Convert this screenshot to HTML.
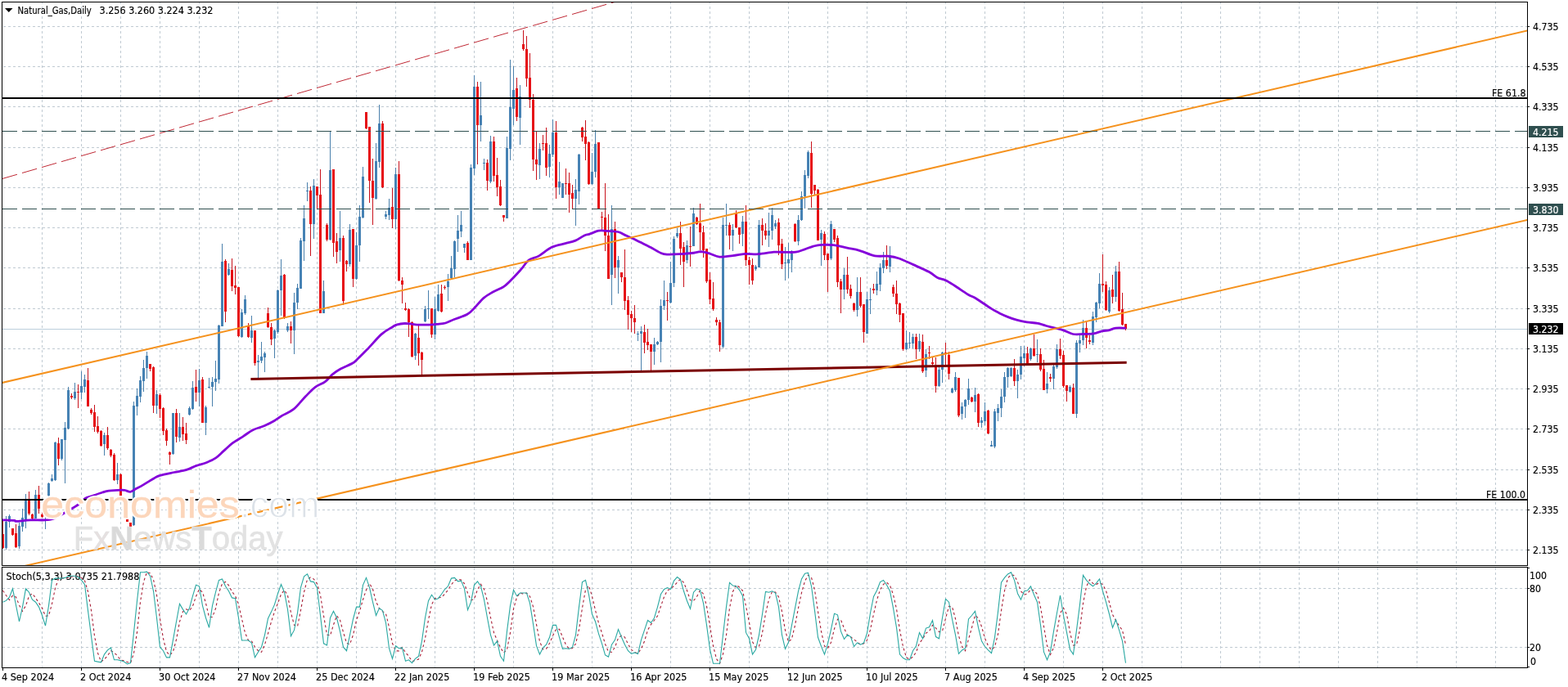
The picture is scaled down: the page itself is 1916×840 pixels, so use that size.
<!DOCTYPE html><html><head><meta charset="utf-8"><style>html,body{margin:0;padding:0;background:#fff;overflow:hidden}svg{display:block}text{font-family:'DejaVu Sans Condensed','DejaVu Sans','Liberation Sans',sans-serif;font-size:12px;fill:#000;stroke:#000;stroke-width:0.15px}</style></head><body>
<svg width="1916" height="840" viewBox="0 0 1916 840">
<rect width="1916" height="840" fill="#fff"/>
<path d="M4 32.5H1866 M4 81.5H1866 M4 130.5H1866 M4 180.5H1866 M4 229.5H1866 M4 278.5H1866 M4 327.5H1866 M4 377.5H1866 M4 426.5H1866 M4 475.5H1866 M4 524.5H1866 M4 574.5H1866 M4 623.5H1866 M4 672.5H1866" stroke="#c0cad2" stroke-width="1" stroke-dasharray="3 3" fill="none" shape-rendering="crispEdges"/>
<path d="M51.5 3V691 M99.5 3V691 M147.5 3V691 M195.5 3V691 M243.5 3V691 M291.5 3V691 M339.5 3V691 M387.5 3V691 M435.5 3V691 M483.5 3V691 M531.5 3V691 M579.5 3V691 M627.5 3V691 M675.5 3V691 M723.5 3V691 M771.5 3V691 M819.5 3V691 M867.5 3V691 M915.5 3V691 M963.5 3V691 M1011.5 3V691 M1059.5 3V691 M1107.5 3V691 M1155.5 3V691 M1203.5 3V691 M1251.5 3V691 M1299.5 3V691 M1347.5 3V691 M1395.5 3V691 M1443.5 3V691 M1491.5 3V691 M1539.5 3V691 M1587.5 3V691 M1635.5 3V691 M1683.5 3V691 M1731.5 3V691 M1779.5 3V691 M1827.5 3V691" stroke="#c0cad2" stroke-width="1" stroke-dasharray="3 3" stroke-dashoffset="1" fill="none" shape-rendering="crispEdges"/>
<path d="M3 719.5H1866 M3 791.5H1866 M51.5 694V816 M99.5 694V816 M147.5 694V816 M195.5 694V816 M243.5 694V816 M291.5 694V816 M339.5 694V816 M387.5 694V816 M435.5 694V816 M483.5 694V816 M531.5 694V816 M579.5 694V816 M627.5 694V816 M675.5 694V816 M723.5 694V816 M771.5 694V816 M819.5 694V816 M867.5 694V816 M915.5 694V816 M963.5 694V816 M1011.5 694V816 M1059.5 694V816 M1107.5 694V816 M1155.5 694V816 M1203.5 694V816 M1251.5 694V816 M1299.5 694V816 M1347.5 694V816 M1395.5 694V816 M1443.5 694V816 M1491.5 694V816 M1539.5 694V816 M1587.5 694V816 M1635.5 694V816 M1683.5 694V816 M1731.5 694V816 M1779.5 694V816 M1827.5 694V816" stroke="#c0cad2" stroke-width="1" stroke-dasharray="3 3" fill="none" shape-rendering="crispEdges"/>
<path d="M3 402.5H1866" stroke="#bccfdc" stroke-width="1" shape-rendering="crispEdges"/>
<path d="M7 631h1v7h-1zM7 670h1v2h-1zM11 629h1v2h-1zM11 638h1v7h-1zM23 639h1v4h-1zM23 668h1v3h-1zM27 622h1v11h-1zM27 644h1v6h-1zM31 604h1v7h-1zM31 635h1v11h-1zM43 599h1v6h-1zM55 609h1v3h-1zM55 630h1v17h-1zM59 590h1v1h-1zM59 606h1v1h-1zM63 580h1v5h-1zM63 588h1v1h-1zM67 540h1v1h-1zM67 587h1v1h-1zM75 561h1v2h-1zM79 516h1v7h-1zM79 538h1v53h-1zM83 473h1v4h-1zM83 524h1v1h-1zM91 468h1v11h-1zM91 487h1v2h-1zM99 454h1v18h-1zM99 480h1v8h-1zM103 458h1v6h-1zM103 473h1v7h-1zM127 529h1v3h-1zM127 543h1v14h-1zM143 566h1v14h-1zM143 587h1v5h-1zM163 491h1v5h-1zM163 642h1v1h-1zM167 475h1v9h-1zM167 497h1v11h-1zM171 460h1v5h-1zM171 485h1v7h-1zM175 440h1v10h-1zM175 466h1v13h-1zM179 430h1v5h-1zM179 450h1v13h-1zM191 477h1v5h-1zM191 496h1v10h-1zM211 555h1v1h-1zM219 505h1v17h-1zM219 535h1v5h-1zM231 497h1v2h-1zM231 507h1v1h-1zM235 466h1v8h-1zM235 500h1v1h-1zM243 451h1v14h-1zM243 480h1v17h-1zM251 496h1v2h-1zM251 517h1v15h-1zM255 462h1v11h-1zM255 474h1v1h-1zM259 461h1v6h-1zM259 473h1v24h-1zM263 441h1v22h-1zM263 467h1v11h-1zM267 397h1v1h-1zM267 464h1v5h-1zM271 298h1v22h-1zM279 322h1v7h-1zM279 336h1v1h-1zM295 378h1v4h-1zM295 412h1v1h-1zM299 361h1v5h-1zM299 383h1v2h-1zM307 386h1v18h-1zM307 413h1v6h-1zM315 434h1v7h-1zM315 443h1v19h-1zM319 418h1v18h-1zM319 441h1v3h-1zM323 430h1v2h-1zM323 437h1v18h-1zM335 403h1v1h-1zM335 414h1v24h-1zM339 354h1v1h-1zM339 406h1v2h-1zM343 317h1v20h-1zM343 355h1v31h-1zM351 395h1v4h-1zM351 404h1v2h-1zM359 358h1v12h-1zM359 404h1v29h-1zM363 347h1v5h-1zM363 370h1v8h-1zM367 291h1v3h-1zM371 251h1v16h-1zM371 295h1v24h-1zM375 223h1v10h-1zM375 234h1v12h-1zM383 219h1v8h-1zM383 274h1v18h-1zM395 343h1v13h-1zM403 160h1v48h-1zM403 293h1v1h-1zM415 258h1v33h-1zM415 306h1v14h-1zM427 274h1v7h-1zM427 323h1v3h-1zM435 284h1v16h-1zM435 341h1v1h-1zM439 251h1v14h-1zM439 300h1v20h-1zM443 204h1v12h-1zM443 266h1v1h-1zM459 175h1v22h-1zM459 243h1v1h-1zM463 128h1v23h-1zM463 198h1v7h-1zM471 258h1v4h-1zM471 265h1v3h-1zM475 243h1v11h-1zM475 263h1v6h-1zM483 205h1v8h-1zM483 268h1v12h-1zM507 407h1v1h-1zM507 435h1v5h-1zM519 374h1v4h-1zM519 393h1v1h-1zM523 355h1v22h-1zM523 378h1v12h-1zM531 363h1v15h-1zM531 409h1v6h-1zM535 348h1v12h-1zM535 380h1v1h-1zM547 335h1v9h-1zM547 351h1v17h-1zM551 313h1v15h-1zM551 340h1v2h-1zM555 294h1v1h-1zM555 329h1v10h-1zM559 263h1v19h-1zM559 292h1v16h-1zM563 258h1v17h-1zM563 283h1v7h-1zM567 303h1v6h-1zM575 201h1v4h-1zM579 92h1v14h-1zM579 206h1v8h-1zM587 100h1v41h-1zM587 153h1v20h-1zM591 194h1v5h-1zM591 200h1v8h-1zM599 166h1v7h-1zM599 222h1v2h-1zM619 167h1v14h-1zM623 73h1v58h-1zM623 182h1v14h-1zM627 81h1v29h-1zM627 133h1v20h-1zM635 104h1v14h-1zM635 144h1v33h-1zM659 175h1v7h-1zM659 202h1v17h-1zM671 177h1v11h-1zM671 204h1v13h-1zM675 146h1v16h-1zM675 189h1v3h-1zM683 198h1v24h-1zM683 229h1v9h-1zM703 219h1v13h-1zM703 243h1v33h-1zM707 188h1v1h-1zM707 234h1v16h-1zM723 187h1v23h-1zM723 225h1v1h-1zM727 159h1v17h-1zM727 210h1v7h-1zM747 251h1v29h-1zM747 336h1v37h-1zM755 313h1v5h-1zM755 327h1v32h-1zM779 405h1v3h-1zM779 409h1v8h-1zM783 399h1v6h-1zM783 408h1v45h-1zM799 413h1v8h-1zM799 430h1v16h-1zM803 417h1v1h-1zM803 421h1v1h-1zM807 366h1v8h-1zM807 418h1v25h-1zM811 343h1v24h-1zM811 374h1v5h-1zM819 320h1v26h-1zM819 370h1v1h-1zM823 289h1v3h-1zM823 346h1v5h-1zM827 279h1v6h-1zM827 289h1v2h-1zM839 294h1v6h-1zM839 318h1v4h-1zM847 254h1v7h-1zM883 266h1v9h-1zM883 424h1v2h-1zM887 249h1v26h-1zM887 276h1v12h-1zM895 274h1v7h-1zM895 288h1v19h-1zM907 264h1v7h-1zM907 286h1v15h-1zM923 324h1v2h-1zM923 329h1v2h-1zM927 269h1v6h-1zM939 260h1v22h-1zM939 288h1v14h-1zM943 254h1v9h-1zM943 282h1v11h-1zM947 269h1v4h-1zM947 277h1v3h-1zM959 302h1v19h-1zM959 322h1v21h-1zM963 297h1v20h-1zM963 322h1v18h-1zM967 306h1v4h-1zM967 318h1v15h-1zM975 263h1v6h-1zM975 295h1v5h-1zM979 234h1v6h-1zM979 269h1v1h-1zM983 208h1v6h-1zM983 240h1v15h-1zM987 184h1v2h-1zM987 215h1v3h-1zM1003 281h1v4h-1zM1003 293h1v32h-1zM1015 270h1v4h-1zM1015 316h1v2h-1zM1031 328h1v8h-1zM1031 354h1v12h-1zM1047 339h1v18h-1zM1047 379h1v8h-1zM1059 357h1v9h-1zM1063 352h1v14h-1zM1063 367h1v17h-1zM1071 332h1v15h-1zM1071 355h1v6h-1zM1075 322h1v5h-1zM1075 348h1v8h-1zM1079 308h1v10h-1zM1079 328h1v6h-1zM1087 301h1v11h-1zM1087 326h1v7h-1zM1107 404h1v15h-1zM1107 427h1v1h-1zM1111 406h1v13h-1zM1111 420h1v6h-1zM1115 408h1v4h-1zM1115 420h1v6h-1zM1123 408h1v9h-1zM1123 427h1v3h-1zM1131 427h1v6h-1zM1131 453h1v8h-1zM1147 449h1v3h-1zM1147 472h1v1h-1zM1151 430h1v1h-1zM1151 452h1v16h-1zM1163 474h1v1h-1zM1163 480h1v1h-1zM1167 455h1v6h-1zM1167 477h1v2h-1zM1175 492h1v5h-1zM1175 506h1v7h-1zM1179 488h1v1h-1zM1179 497h1v14h-1zM1183 463h1v12h-1zM1183 489h1v6h-1zM1191 474h1v9h-1zM1191 491h1v13h-1zM1199 510h1v4h-1zM1199 517h1v6h-1zM1203 492h1v11h-1zM1203 515h1v5h-1zM1211 539h1v5h-1zM1215 500h1v3h-1zM1215 546h1v2h-1zM1219 494h1v5h-1zM1219 505h1v10h-1zM1223 476h1v9h-1zM1223 499h1v11h-1zM1227 455h1v6h-1zM1227 485h1v7h-1zM1231 449h1v1h-1zM1231 461h1v13h-1zM1235 449h1v1h-1zM1235 460h1v1h-1zM1243 452h1v6h-1zM1243 466h1v21h-1zM1247 423h1v13h-1zM1247 458h1v6h-1zM1251 423h1v9h-1zM1251 438h1v10h-1zM1259 425h1v1h-1zM1259 439h1v2h-1zM1267 415h1v18h-1zM1267 434h1v9h-1zM1279 455h1v14h-1zM1279 476h1v5h-1zM1287 444h1v4h-1zM1287 463h1v13h-1zM1291 421h1v6h-1zM1291 449h1v2h-1zM1307 471h1v2h-1zM1307 479h1v1h-1zM1315 416h1v3h-1zM1315 506h1v5h-1zM1319 410h1v6h-1zM1319 420h1v11h-1zM1323 391h1v10h-1zM1323 416h1v6h-1zM1335 381h1v6h-1zM1335 419h1v3h-1zM1339 369h1v1h-1zM1339 388h1v6h-1zM1343 334h1v13h-1zM1343 371h1v6h-1zM1355 351h1v4h-1zM1355 381h1v2h-1zM1363 325h1v7h-1zM1363 363h1v6h-1z" fill="#4a80ac" shape-rendering="crispEdges"/>
<path d="M6 638h3v32h-3zM10 631h3v7h-3zM22 643h3v25h-3zM26 633h3v11h-3zM30 611h3v24h-3zM42 605h3v29h-3zM54 612h3v18h-3zM58 591h3v15h-3zM62 585h3v3h-3zM66 541h3v46h-3zM74 537h3v24h-3zM78 523h3v15h-3zM82 477h3v47h-3zM90 479h3v8h-3zM98 472h3v8h-3zM102 464h3v9h-3zM126 532h3v11h-3zM142 580h3v7h-3zM162 496h3v146h-3zM166 484h3v13h-3zM170 465h3v20h-3zM174 450h3v16h-3zM178 435h3v15h-3zM190 482h3v14h-3zM210 505h3v50h-3zM218 522h3v13h-3zM230 499h3v8h-3zM234 474h3v26h-3zM242 465h3v15h-3zM250 498h3v19h-3zM254 473h3v1h-3zM258 467h3v6h-3zM262 463h3v4h-3zM266 398h3v66h-3zM270 320h3v79h-3zM278 329h3v7h-3zM294 382h3v30h-3zM298 366h3v17h-3zM306 404h3v9h-3zM314 441h3v2h-3zM318 436h3v5h-3zM322 432h3v5h-3zM334 404h3v10h-3zM338 355h3v51h-3zM342 337h3v18h-3zM350 399h3v5h-3zM358 370h3v34h-3zM362 352h3v18h-3zM366 294h3v59h-3zM370 267h3v28h-3zM374 233h3v1h-3zM382 227h3v47h-3zM394 356h3v27h-3zM402 208h3v85h-3zM414 291h3v15h-3zM426 281h3v42h-3zM434 300h3v41h-3zM438 265h3v35h-3zM442 216h3v50h-3zM458 197h3v46h-3zM462 151h3v47h-3zM470 262h3v3h-3zM474 254h3v9h-3zM482 213h3v55h-3zM506 408h3v27h-3zM518 378h3v15h-3zM522 377h3v1h-3zM530 378h3v31h-3zM534 360h3v20h-3zM546 344h3v7h-3zM550 328h3v12h-3zM554 295h3v34h-3zM558 282h3v10h-3zM562 275h3v8h-3zM566 298h3v5h-3zM574 205h3v113h-3zM578 106h3v100h-3zM586 141h3v12h-3zM590 199h3v1h-3zM598 173h3v49h-3zM618 181h3v86h-3zM622 131h3v51h-3zM626 110h3v23h-3zM634 118h3v26h-3zM658 182h3v20h-3zM670 188h3v16h-3zM674 162h3v27h-3zM682 222h3v7h-3zM686 224h3v18h-3zM702 232h3v11h-3zM706 189h3v45h-3zM722 210h3v15h-3zM726 176h3v34h-3zM746 280h3v56h-3zM754 318h3v9h-3zM778 408h3v1h-3zM782 405h3v3h-3zM798 421h3v9h-3zM802 418h3v3h-3zM806 374h3v44h-3zM810 367h3v7h-3zM818 346h3v24h-3zM822 292h3v54h-3zM826 285h3v4h-3zM838 300h3v18h-3zM846 261h3v40h-3zM882 275h3v149h-3zM886 275h3v1h-3zM894 281h3v7h-3zM906 271h3v15h-3zM922 326h3v3h-3zM926 275h3v52h-3zM938 282h3v6h-3zM942 263h3v19h-3zM946 273h3v4h-3zM958 321h3v1h-3zM962 317h3v5h-3zM966 310h3v8h-3zM974 269h3v26h-3zM978 240h3v29h-3zM982 214h3v26h-3zM986 186h3v29h-3zM1002 285h3v8h-3zM1014 274h3v42h-3zM1030 336h3v18h-3zM1046 357h3v22h-3zM1058 366h3v42h-3zM1062 366h3v1h-3zM1070 347h3v8h-3zM1074 327h3v21h-3zM1078 318h3v10h-3zM1086 312h3v14h-3zM1106 419h3v8h-3zM1110 419h3v1h-3zM1114 412h3v8h-3zM1122 417h3v10h-3zM1130 433h3v20h-3zM1146 452h3v20h-3zM1150 431h3v21h-3zM1162 475h3v5h-3zM1166 461h3v16h-3zM1174 497h3v9h-3zM1178 489h3v8h-3zM1182 475h3v14h-3zM1190 483h3v8h-3zM1198 514h3v3h-3zM1202 503h3v12h-3zM1210 544h3v2h-3zM1214 503h3v43h-3zM1218 499h3v6h-3zM1222 485h3v14h-3zM1226 461h3v24h-3zM1230 450h3v11h-3zM1234 450h3v10h-3zM1242 458h3v8h-3zM1246 436h3v22h-3zM1250 432h3v6h-3zM1258 426h3v13h-3zM1266 433h3v1h-3zM1278 469h3v7h-3zM1286 448h3v15h-3zM1290 427h3v22h-3zM1306 473h3v6h-3zM1314 419h3v87h-3zM1318 416h3v4h-3zM1322 401h3v15h-3zM1334 387h3v32h-3zM1338 370h3v18h-3zM1342 347h3v24h-3zM1354 355h3v26h-3zM1362 332h3v31h-3z" fill="#4682b4" shape-rendering="crispEdges"/>
<path d="M3 637h1v16h-1zM3 670h1v1h-1zM15 654h1v1h-1zM19 641h1v11h-1zM19 669h1v1h-1zM35 601h1v10h-1zM35 628h1v2h-1zM39 628h1v1h-1zM39 634h1v1h-1zM47 594h1v11h-1zM47 622h1v6h-1zM51 620h1v9h-1zM51 632h1v1h-1zM71 535h1v7h-1zM71 561h1v8h-1zM87 481h1v3h-1zM87 486h1v2h-1zM95 470h1v9h-1zM95 480h1v19h-1zM107 450h1v15h-1zM111 499h1v2h-1zM111 505h1v2h-1zM115 495h1v9h-1zM115 522h1v6h-1zM119 509h1v12h-1zM119 528h1v2h-1zM123 526h1v1h-1zM123 545h1v1h-1zM131 522h1v10h-1zM131 548h1v2h-1zM135 549h1v1h-1zM135 557h1v2h-1zM139 554h1v2h-1zM139 587h1v1h-1zM147 579h1v1h-1zM151 608h1v4h-1zM183 451h1v3h-1zM187 448h1v1h-1zM187 496h1v9h-1zM195 481h1v2h-1zM195 500h1v11h-1zM199 498h1v1h-1zM199 527h1v5h-1zM203 524h1v2h-1zM203 539h1v6h-1zM207 552h1v1h-1zM207 556h1v12h-1zM215 500h1v5h-1zM215 534h1v7h-1zM223 510h1v12h-1zM223 531h1v8h-1zM227 517h1v13h-1zM227 538h1v5h-1zM239 452h1v21h-1zM239 480h1v11h-1zM247 461h1v3h-1zM275 317h1v2h-1zM275 381h1v13h-1zM283 316h1v14h-1zM283 350h1v6h-1zM287 325h1v24h-1zM287 352h1v8h-1zM291 411h1v1h-1zM303 395h1v3h-1zM303 412h1v1h-1zM311 444h1v3h-1zM327 376h1v7h-1zM327 400h1v1h-1zM331 395h1v5h-1zM331 415h1v7h-1zM347 335h1v1h-1zM347 388h1v2h-1zM355 393h1v6h-1zM355 404h1v16h-1zM379 228h1v5h-1zM379 274h1v39h-1zM387 239h1v16h-1zM391 207h1v31h-1zM399 273h1v2h-1zM399 293h1v2h-1zM407 297h1v17h-1zM411 285h1v10h-1zM411 308h1v14h-1zM419 288h1v3h-1zM419 368h1v5h-1zM423 318h1v1h-1zM423 323h1v9h-1zM431 341h1v10h-1zM447 157h1v1h-1zM451 221h1v27h-1zM455 194h1v27h-1zM455 242h1v33h-1zM467 148h1v3h-1zM467 229h1v1h-1zM479 230h1v23h-1zM479 268h1v11h-1zM487 197h1v16h-1zM487 343h1v1h-1zM491 339h1v4h-1zM491 348h1v23h-1zM495 370h1v7h-1zM495 379h1v1h-1zM499 377h1v1h-1zM499 394h1v18h-1zM503 393h1v1h-1zM503 436h1v1h-1zM511 398h1v15h-1zM511 432h1v15h-1zM515 430h1v1h-1zM515 440h1v18h-1zM527 409h1v4h-1zM539 348h1v11h-1zM539 381h1v1h-1zM543 349h1v2h-1zM543 352h1v2h-1zM571 295h1v2h-1zM583 100h1v6h-1zM583 153h1v48h-1zM595 195h1v4h-1zM595 221h1v12h-1zM603 167h1v6h-1zM603 215h1v7h-1zM607 193h1v21h-1zM607 229h1v11h-1zM611 220h1v8h-1zM611 251h1v1h-1zM615 266h1v5h-1zM631 95h1v13h-1zM631 143h1v5h-1zM639 37h1v17h-1zM639 60h1v2h-1zM643 44h1v16h-1zM643 96h1v10h-1zM647 65h1v30h-1zM647 122h1v10h-1zM651 115h1v7h-1zM651 195h1v14h-1zM655 160h1v35h-1zM655 201h1v19h-1zM663 165h1v10h-1zM663 176h1v8h-1zM667 156h1v19h-1zM667 205h1v10h-1zM679 148h1v14h-1zM679 229h1v14h-1zM691 206h1v18h-1zM691 225h1v13h-1zM695 211h1v13h-1zM695 238h1v22h-1zM699 226h1v10h-1zM699 243h1v12h-1zM711 155h1v1h-1zM711 168h1v5h-1zM715 147h1v20h-1zM715 176h1v20h-1zM719 173h1v1h-1zM719 225h1v1h-1zM735 259h1v6h-1zM735 266h1v16h-1zM739 224h1v42h-1zM739 288h1v19h-1zM743 262h1v26h-1zM751 271h1v9h-1zM751 327h1v13h-1zM759 339h1v6h-1zM763 305h1v34h-1zM763 368h1v11h-1zM767 362h1v5h-1zM767 385h1v18h-1zM771 380h1v4h-1zM771 389h1v17h-1zM775 373h1v16h-1zM775 394h1v14h-1zM787 397h1v9h-1zM787 419h1v13h-1zM791 402h1v16h-1zM791 422h1v6h-1zM795 430h1v24h-1zM815 357h1v10h-1zM815 368h1v24h-1zM831 271h1v14h-1zM831 304h1v20h-1zM835 296h1v6h-1zM835 320h1v31h-1zM843 277h1v24h-1zM843 302h1v24h-1zM851 265h1v1h-1zM851 274h1v1h-1zM855 249h1v24h-1zM855 284h1v22h-1zM859 276h1v8h-1zM859 306h1v9h-1zM863 344h1v2h-1zM867 333h1v9h-1zM867 366h1v6h-1zM871 345h1v20h-1zM871 378h1v2h-1zM875 388h1v3h-1zM875 394h1v4h-1zM879 391h1v3h-1zM879 422h1v8h-1zM891 272h1v3h-1zM891 288h1v17h-1zM899 257h1v4h-1zM899 278h1v1h-1zM903 287h1v11h-1zM911 251h1v20h-1zM911 318h1v7h-1zM915 314h1v4h-1zM915 324h1v24h-1zM919 316h1v8h-1zM919 343h1v5h-1zM931 267h1v8h-1zM931 282h1v18h-1zM935 273h1v9h-1zM935 288h1v5h-1zM951 267h1v5h-1zM951 300h1v12h-1zM955 292h1v6h-1zM955 323h1v6h-1zM971 273h1v1h-1zM971 295h1v1h-1zM991 173h1v14h-1zM991 237h1v17h-1zM995 233h1v5h-1zM999 231h1v1h-1zM1007 283h1v3h-1zM1007 312h1v6h-1zM1011 318h1v39h-1zM1019 293h1v3h-1zM1023 288h1v3h-1zM1023 345h1v6h-1zM1027 341h1v3h-1zM1027 354h1v29h-1zM1035 314h1v22h-1zM1035 354h1v5h-1zM1039 348h1v5h-1zM1039 362h1v3h-1zM1043 370h1v1h-1zM1043 379h1v2h-1zM1051 339h1v18h-1zM1051 374h1v2h-1zM1055 406h1v13h-1zM1067 347h1v6h-1zM1067 355h1v4h-1zM1083 300h1v18h-1zM1083 325h1v4h-1zM1091 348h1v3h-1zM1091 359h1v4h-1zM1095 343h1v16h-1zM1095 372h1v12h-1zM1099 370h1v1h-1zM1099 385h1v9h-1zM1103 427h1v2h-1zM1119 408h1v4h-1zM1119 427h1v12h-1zM1127 409h1v9h-1zM1127 454h1v2h-1zM1135 423h1v8h-1zM1135 432h1v7h-1zM1139 437h1v6h-1zM1139 445h1v3h-1zM1143 437h1v11h-1zM1143 472h1v8h-1zM1155 419h1v12h-1zM1155 433h1v14h-1zM1159 430h1v4h-1zM1159 457h1v7h-1zM1171 508h1v2h-1zM1187 485h1v1h-1zM1187 491h1v1h-1zM1195 481h1v1h-1zM1195 517h1v5h-1zM1207 501h1v1h-1zM1207 530h1v1h-1zM1239 439h1v11h-1zM1239 466h1v6h-1zM1255 424h1v8h-1zM1255 445h1v2h-1zM1263 409h1v17h-1zM1263 435h1v1h-1zM1271 426h1v7h-1zM1271 452h1v2h-1zM1275 440h1v11h-1zM1283 457h1v4h-1zM1283 463h1v4h-1zM1295 414h1v13h-1zM1295 435h1v4h-1zM1299 429h1v5h-1zM1299 472h1v2h-1zM1303 478h1v13h-1zM1311 469h1v5h-1zM1327 394h1v7h-1zM1327 413h1v13h-1zM1331 410h1v6h-1zM1331 418h1v3h-1zM1347 311h1v36h-1zM1347 349h1v8h-1zM1351 344h1v4h-1zM1351 379h1v1h-1zM1359 336h1v18h-1zM1359 363h1v8h-1zM1367 320h1v12h-1zM1367 380h1v1h-1zM1371 358h1v20h-1zM1371 397h1v1h-1zM1375 402h1v2h-1z" fill="#c8121c" shape-rendering="crispEdges"/>
<path d="M2 653h3v17h-3zM14 646h3v8h-3zM18 652h3v17h-3zM34 611h3v17h-3zM38 629h3v5h-3zM46 605h3v17h-3zM50 629h3v3h-3zM70 542h3v19h-3zM86 484h3v2h-3zM94 479h3v1h-3zM106 465h3v32h-3zM110 501h3v4h-3zM114 504h3v18h-3zM118 521h3v7h-3zM122 527h3v18h-3zM130 532h3v16h-3zM134 550h3v7h-3zM138 556h3v31h-3zM146 580h3v27h-3zM150 612h3v6h-3zM154 634h3v4h-3zM158 639h3v5h-3zM182 445h3v6h-3zM186 449h3v47h-3zM194 483h3v17h-3zM198 499h3v28h-3zM202 526h3v13h-3zM206 553h3v3h-3zM214 505h3v29h-3zM222 522h3v9h-3zM226 530h3v8h-3zM238 473h3v7h-3zM246 464h3v53h-3zM274 319h3v62h-3zM282 330h3v20h-3zM286 349h3v3h-3zM290 351h3v60h-3zM302 398h3v14h-3zM310 404h3v40h-3zM326 383h3v17h-3zM330 400h3v15h-3zM346 336h3v52h-3zM354 399h3v5h-3zM378 233h3v41h-3zM386 228h3v11h-3zM390 238h3v145h-3zM398 275h3v18h-3zM406 207h3v90h-3zM410 295h3v13h-3zM418 291h3v77h-3zM422 319h3v4h-3zM430 280h3v61h-3zM446 137h3v20h-3zM450 155h3v66h-3zM454 221h3v21h-3zM466 151h3v78h-3zM478 253h3v15h-3zM486 213h3v130h-3zM490 343h3v5h-3zM494 377h3v2h-3zM498 378h3v16h-3zM502 394h3v42h-3zM510 413h3v19h-3zM514 431h3v9h-3zM526 377h3v32h-3zM538 359h3v22h-3zM542 351h3v1h-3zM570 297h3v21h-3zM582 106h3v47h-3zM594 199h3v22h-3zM602 173h3v42h-3zM606 214h3v15h-3zM610 228h3v23h-3zM614 263h3v3h-3zM630 108h3v35h-3zM638 54h3v6h-3zM642 60h3v36h-3zM646 95h3v27h-3zM650 122h3v73h-3zM654 195h3v6h-3zM662 175h3v1h-3zM666 175h3v30h-3zM678 162h3v67h-3zM690 224h3v1h-3zM694 224h3v14h-3zM698 236h3v7h-3zM710 156h3v12h-3zM714 167h3v9h-3zM718 174h3v51h-3zM730 174h3v81h-3zM734 265h3v1h-3zM738 266h3v22h-3zM742 288h3v53h-3zM750 280h3v47h-3zM758 333h3v6h-3zM762 339h3v29h-3zM766 367h3v18h-3zM770 384h3v5h-3zM774 389h3v5h-3zM786 406h3v13h-3zM790 418h3v4h-3zM794 421h3v9h-3zM814 367h3v1h-3zM830 285h3v19h-3zM834 302h3v18h-3zM842 301h3v1h-3zM850 266h3v8h-3zM854 273h3v11h-3zM858 284h3v22h-3zM862 304h3v40h-3zM866 342h3v24h-3zM870 365h3v13h-3zM874 391h3v3h-3zM878 394h3v28h-3zM890 275h3v13h-3zM898 261h3v17h-3zM902 278h3v9h-3zM910 271h3v47h-3zM914 318h3v6h-3zM918 324h3v19h-3zM930 275h3v7h-3zM934 282h3v6h-3zM950 272h3v28h-3zM954 298h3v25h-3zM970 274h3v21h-3zM990 187h3v50h-3zM994 226h3v7h-3zM998 232h3v62h-3zM1006 286h3v26h-3zM1010 310h3v8h-3zM1018 280h3v13h-3zM1022 291h3v54h-3zM1026 344h3v10h-3zM1034 336h3v18h-3zM1038 353h3v9h-3zM1042 371h3v8h-3zM1050 357h3v17h-3zM1054 372h3v34h-3zM1066 353h3v2h-3zM1082 318h3v7h-3zM1090 351h3v8h-3zM1094 359h3v13h-3zM1098 371h3v14h-3zM1102 383h3v44h-3zM1118 412h3v15h-3zM1126 418h3v36h-3zM1134 431h3v1h-3zM1138 443h3v2h-3zM1142 448h3v24h-3zM1154 431h3v2h-3zM1158 434h3v23h-3zM1170 462h3v46h-3zM1186 486h3v5h-3zM1194 482h3v35h-3zM1206 502h3v28h-3zM1238 450h3v16h-3zM1254 432h3v13h-3zM1262 426h3v9h-3zM1270 433h3v19h-3zM1274 451h3v26h-3zM1282 461h3v2h-3zM1294 427h3v8h-3zM1298 434h3v38h-3zM1302 471h3v7h-3zM1310 474h3v32h-3zM1326 401h3v12h-3zM1330 416h3v2h-3zM1346 347h3v2h-3zM1350 348h3v31h-3zM1358 354h3v9h-3zM1366 332h3v48h-3zM1370 378h3v19h-3zM1374 396h3v6h-3z" fill="#e60d14" shape-rendering="crispEdges"/>


<defs><clipPath id="cm"><rect x="3" y="3" width="1863" height="688"/></clipPath><clipPath id="cs"><rect x="3" y="694" width="1863" height="122"/></clipPath></defs>
<g clip-path="url(#cm)">
<path d="M2.5 635.8C5.0 635.9 14.6 636.1 17.5 636.4C20.4 636.7 16.6 637.5 20.0 637.4C23.4 637.3 30.5 636.2 37.6 635.8C44.7 635.4 54.8 637.1 62.7 635.0C70.6 632.9 79.6 626.4 85.2 623.3C90.8 620.2 93.4 618.7 96.5 616.4C99.6 614.1 101.3 611.2 104.0 609.5C106.7 607.8 109.2 607.6 112.8 606.4C116.3 605.1 122.0 603.0 125.3 602.0C128.6 601.0 129.0 600.6 132.8 600.1C136.6 599.6 144.6 599.2 147.9 599.1C151.2 599.0 151.0 599.1 152.9 599.5C154.8 599.9 157.2 601.5 159.1 601.4C161.0 601.3 161.5 600.3 164.2 598.8C166.9 597.3 171.4 594.9 175.4 592.6C179.4 590.3 184.7 586.9 188.0 585.0C191.3 583.1 191.3 582.5 195.5 581.3C199.7 580.0 207.6 578.6 213.0 577.5C218.4 576.4 223.5 575.8 228.0 574.4C232.5 573.0 236.0 570.8 240.0 569.4C244.0 568.0 247.9 567.3 251.9 565.7C255.9 564.1 260.2 562.2 263.8 559.8C267.4 557.4 269.9 554.4 273.3 551.4C276.7 548.4 280.0 544.9 284.0 541.9C288.0 538.9 292.9 536.3 297.1 533.6C301.3 530.9 304.6 527.9 309.0 525.7C313.4 523.5 318.9 522.4 323.3 520.5C327.7 518.6 331.6 516.6 335.2 514.5C338.8 512.4 340.8 510.5 344.8 508.1C348.8 505.7 354.2 504.1 359.0 500.2C363.8 496.3 368.9 489.3 373.3 484.8C377.7 480.3 381.2 476.3 385.2 473.3C389.2 470.3 393.5 469.5 397.1 466.9C400.7 464.2 403.5 460.0 406.7 457.4C409.9 454.8 412.2 453.2 416.2 451.0C420.2 448.8 426.9 446.4 430.5 444.3C434.1 442.2 434.4 441.3 437.6 438.3C440.8 435.3 444.7 431.3 449.5 426.4C454.3 421.4 461.1 413.1 466.2 408.6C471.3 404.1 476.8 401.5 480.0 399.5C483.2 397.5 483.0 397.5 485.4 396.8C487.8 396.1 491.6 395.6 494.3 395.5C497.0 395.4 498.7 395.6 501.4 395.9C504.1 396.2 506.5 396.9 510.4 397.1C514.3 397.3 520.7 397.2 524.6 397.1C528.5 397.0 530.3 396.8 533.6 396.4C536.9 396.0 540.7 396.0 544.3 395.0C547.9 394.0 550.5 392.3 555.0 390.5C559.5 388.7 566.8 386.7 571.0 384.3C575.2 381.9 576.7 379.6 580.0 376.3C583.3 373.0 587.1 367.7 590.7 364.6C594.3 361.5 597.2 359.9 601.4 357.5C605.6 355.1 611.5 353.2 615.7 350.4C619.9 347.6 622.8 344.1 626.4 340.5C630.0 336.9 633.8 332.6 637.1 328.9C640.4 325.2 642.4 320.9 646.0 318.2C649.6 315.5 653.8 315.6 658.6 312.9C663.4 310.2 669.2 304.6 674.6 302.1C680.0 299.6 685.9 299.0 690.7 297.7C695.5 296.4 699.3 295.7 703.2 294.1C707.1 292.5 711.2 289.2 714.0 287.9C716.8 286.6 717.1 287.2 720.0 286.3C722.9 285.4 728.2 282.9 731.3 282.2C734.4 281.5 734.8 282.0 738.8 282.2C742.8 282.4 751.1 282.7 755.1 283.5C759.1 284.3 759.7 285.6 762.6 286.9C765.5 288.2 769.2 289.7 772.6 291.3C776.0 292.9 778.9 294.4 782.7 296.3C786.5 298.2 791.0 300.4 795.2 302.6C799.4 304.8 804.4 308.1 807.7 309.5C811.0 310.9 811.4 310.9 815.2 311.1C819.0 311.3 825.3 311.0 830.3 310.7C835.3 310.4 840.9 310.0 845.3 309.5C849.7 309.0 853.0 307.6 856.6 307.6C860.2 307.7 862.9 308.7 866.6 309.8C870.4 310.9 874.3 313.6 879.1 314.1C883.9 314.6 890.2 313.2 895.4 312.6C900.6 312.0 905.3 310.7 910.5 310.4C915.7 310.1 920.9 311.1 926.8 310.7C932.6 310.3 940.1 308.6 945.6 308.2C951.1 307.8 955.5 308.4 960.0 308.4C964.5 308.4 968.7 308.8 972.5 308.2C976.3 307.6 979.1 306.3 982.6 305.1C986.1 303.9 990.2 302.1 993.8 301.1C997.3 300.2 999.5 299.6 1003.9 299.4C1008.3 299.2 1015.0 299.2 1020.2 299.8C1025.4 300.4 1030.2 302.1 1035.2 303.2C1040.2 304.3 1044.6 304.7 1050.2 306.3C1055.8 307.9 1063.2 311.7 1069.0 312.8C1074.8 313.9 1080.5 312.7 1085.3 313.2C1090.1 313.7 1092.6 313.9 1097.8 315.7C1103.0 317.5 1110.3 321.1 1116.6 323.9C1122.9 326.7 1130.6 330.0 1135.4 332.6C1140.2 335.2 1142.2 337.8 1145.5 339.5C1148.8 341.2 1152.0 341.0 1155.5 342.7C1159.0 344.4 1162.2 346.6 1166.8 349.5C1171.4 352.4 1178.7 357.6 1183.1 360.2C1187.5 362.8 1188.5 362.4 1193.1 365.2C1197.7 368.0 1206.2 374.2 1210.9 377.1C1215.6 380.1 1217.8 381.1 1221.3 382.9C1224.8 384.6 1228.3 386.2 1231.8 387.6C1235.3 389.0 1238.4 390.2 1242.2 391.2C1246.0 392.2 1250.4 393.1 1254.7 393.8C1259.0 394.5 1264.3 394.6 1268.3 395.4C1272.3 396.2 1275.2 397.6 1278.7 398.5C1282.2 399.4 1285.7 400.2 1289.2 401.1C1292.7 402.0 1295.9 402.6 1299.6 403.8C1303.2 405.0 1307.1 407.7 1311.1 408.5C1315.1 409.3 1319.4 408.6 1323.6 408.5C1327.8 408.4 1332.3 408.5 1336.1 407.9C1339.9 407.3 1343.5 405.5 1346.6 404.8C1349.7 404.1 1352.1 404.4 1354.9 403.8C1357.7 403.2 1359.8 401.6 1363.3 401.1C1366.8 400.7 1373.7 401.1 1375.8 401.1" stroke="#8400da" stroke-width="2.8" fill="none" stroke-linejoin="round"/>
<path d="M306.4 463.4L1376.7 443.3" stroke="#7a0000" stroke-width="3" fill="none"/>
<path d="M0 468.59L1870 36.58M0 698.93L1870 267.98" stroke="#f5921e" stroke-width="2" fill="none"/>
<path d="M3 218.46L760 -0.09" stroke="#c02a36" stroke-width="1" stroke-dasharray="18.735 6.245" fill="none"/>
</g>
<path d="M3 160.5H1866M3 255.5H1866" stroke="#2f4f4f" stroke-width="1" stroke-dasharray="18 6" shape-rendering="crispEdges"/>
<path d="M3 120H1866M3 611H1866" stroke="#000" stroke-width="2" shape-rendering="crispEdges"/>
<text x="50.3" y="632.6" textLength="242.5" lengthAdjust="spacingAndGlyphs" style="font-family:'Liberation Sans',Arial,sans-serif;font-size:47px;fill:#fff;stroke:#fff;stroke-width:4;stroke-linejoin:round">economies</text>
<text x="50.3" y="632.6" textLength="242.5" lengthAdjust="spacingAndGlyphs" style="font-family:'Liberation Sans',Arial,sans-serif;font-size:47px;fill:#fcd6bb;stroke:#fcd6bb;stroke-width:0.3">economies</text>
<text x="293" y="632.6" textLength="97.6" lengthAdjust="spacingAndGlyphs" style="font-family:'Liberation Sans',Arial,sans-serif;font-size:47px;fill:#fff;stroke:#fff;stroke-width:3;stroke-linejoin:round">.com</text>
<text x="293" y="632.6" textLength="97.6" lengthAdjust="spacingAndGlyphs" style="font-family:'Liberation Sans',Arial,sans-serif;font-size:47px;fill:#dce2e8;stroke:#fff;stroke-width:1.3">.com</text>
<text x="89.8" y="672" textLength="255.7" lengthAdjust="spacingAndGlyphs" style="font-family:'Liberation Sans',Arial,sans-serif;font-size:40.5px;fill:#e2e2e2;stroke:#e2e2e2;stroke-width:0.6"><tspan style="fill:#e2e2e2">F</tspan><tspan style="fill:#e6e0e0">x</tspan><tspan style="font-weight:bold;fill:#d9d9d9">N</tspan>ews<tspan style="font-weight:bold;fill:#dadada">T</tspan>oday</text>
<text x="7.5" y="708.7" textLength="163" lengthAdjust="spacingAndGlyphs">Stoch(5,3,3) 3.0735 21.7988</text>
<g clip-path="url(#cs)">
<path d="M3.5 722.0 L7.5 728.0 L11.5 733.6 L15.5 728.1 L19.5 730.0 L23.5 739.9 L27.5 747.3 L31.5 740.6 L35.5 728.7 L39.5 725.7 L43.5 731.2 L47.5 737.1 L51.5 743.6 L55.5 753.3 L59.5 752.8 L63.5 738.4 L67.5 719.0 L71.5 707.9 L75.5 707.1 L79.5 706.9 L83.5 706.1 L87.5 705.2 L91.5 704.4 L95.5 704.7 L99.5 706.4 L103.5 709.9 L107.5 723.5 L111.5 746.3 L115.5 777.6 L119.5 798.4 L123.5 809.1 L127.5 806.3 L131.5 801.6 L135.5 795.7 L139.5 797.9 L143.5 801.9 L147.5 807.1 L151.5 807.8 L155.5 809.6 L159.5 810.6 L163.5 798.7 L167.5 772.9 L171.5 735.9 L175.5 711.4 L179.5 699.5 L183.5 701.0 L187.5 708.7 L191.5 727.5 L195.5 756.5 L199.5 780.8 L203.5 796.9 L207.5 801.1 L211.5 796.7 L215.5 782.0 L219.5 760.2 L223.5 747.8 L227.5 744.8 L231.5 746.6 L235.5 741.1 L239.5 729.2 L243.5 720.3 L247.5 724.2 L251.5 737.6 L255.5 754.5 L259.5 754.5 L263.5 744.1 L267.5 724.7 L271.5 713.8 L275.5 711.4 L279.5 715.8 L283.5 723.5 L287.5 728.5 L291.5 739.4 L295.5 756.7 L299.5 773.9 L303.5 783.0 L307.5 784.0 L311.5 791.0 L315.5 795.7 L319.5 797.4 L323.5 788.2 L327.5 774.6 L331.5 760.2 L335.5 747.8 L339.5 737.6 L343.5 726.5 L347.5 721.5 L351.5 728.0 L355.5 749.1 L359.5 764.4 L363.5 765.9 L367.5 746.1 L371.5 724.2 L375.5 708.4 L379.5 705.9 L383.5 708.1 L387.5 713.8 L391.5 727.7 L395.5 752.8 L399.5 776.1 L403.5 777.1 L407.5 763.9 L411.5 752.8 L415.5 758.2 L419.5 772.9 L423.5 786.3 L427.5 787.7 L431.5 776.3 L435.5 758.5 L439.5 747.1 L443.5 733.2 L447.5 721.3 L451.5 713.3 L455.5 720.3 L459.5 735.7 L463.5 744.1 L467.5 747.6 L471.5 750.5 L475.5 766.9 L479.5 786.5 L483.5 795.9 L487.5 795.9 L491.5 791.5 L495.5 797.7 L499.5 802.4 L503.5 808.6 L507.5 807.6 L511.5 806.1 L515.5 797.2 L519.5 780.5 L523.5 758.0 L527.5 739.1 L531.5 731.7 L535.5 730.7 L539.5 730.5 L543.5 726.2 L547.5 721.3 L551.5 714.8 L555.5 710.1 L559.5 708.1 L563.5 709.1 L567.5 713.6 L571.5 725.2 L575.5 733.9 L579.5 732.4 L583.5 720.8 L587.5 714.3 L591.5 720.3 L595.5 735.2 L599.5 755.0 L603.5 773.6 L607.5 783.0 L611.5 791.7 L615.5 798.2 L619.5 794.2 L623.5 773.6 L627.5 744.6 L631.5 730.2 L635.5 725.0 L639.5 726.2 L643.5 725.0 L647.5 729.2 L651.5 741.9 L655.5 763.4 L659.5 784.3 L663.5 793.9 L667.5 793.4 L671.5 786.5 L675.5 777.3 L679.5 769.4 L683.5 769.4 L687.5 779.1 L691.5 788.5 L695.5 793.2 L699.5 792.5 L703.5 787.0 L707.5 769.9 L711.5 743.3 L715.5 721.0 L719.5 716.1 L723.5 729.2 L727.5 746.1 L731.5 761.9 L735.5 773.9 L739.5 787.5 L743.5 796.9 L747.5 797.4 L751.5 791.2 L755.5 780.1 L759.5 777.1 L763.5 779.1 L767.5 787.7 L771.5 794.4 L775.5 797.7 L779.5 798.9 L783.5 793.2 L787.5 784.0 L791.5 770.4 L795.5 763.4 L799.5 758.5 L803.5 753.0 L807.5 741.4 L811.5 729.7 L815.5 721.9 L819.5 719.9 L823.5 716.4 L827.5 712.1 L831.5 708.1 L835.5 712.3 L839.5 722.0 L843.5 733.9 L847.5 734.4 L851.5 729.5 L855.5 721.8 L859.5 726.2 L863.5 741.1 L867.5 765.4 L871.5 790.0 L875.5 805.6 L879.5 811.3 L883.5 799.6 L887.5 776.6 L891.5 743.6 L895.5 723.5 L899.5 715.1 L903.5 718.0 L907.5 722.3 L911.5 741.1 L915.5 761.0 L919.5 784.8 L923.5 791.7 L927.5 790.2 L931.5 773.9 L935.5 750.3 L939.5 732.9 L943.5 723.5 L947.5 724.0 L951.5 730.0 L955.5 747.8 L959.5 770.6 L963.5 785.0 L967.5 781.0 L971.5 764.4 L975.5 743.6 L979.5 724.7 L983.5 710.6 L987.5 703.2 L991.5 706.1 L995.5 721.3 L999.5 747.6 L1003.5 772.0 L1007.5 789.9 L1011.5 792.4 L1015.5 785.5 L1019.5 768.9 L1023.5 757.2 L1027.5 758.0 L1031.5 768.4 L1035.5 776.6 L1039.5 778.8 L1043.5 781.8 L1047.5 785.0 L1051.5 788.2 L1055.5 786.8 L1059.5 782.8 L1063.5 769.9 L1067.5 751.0 L1071.5 733.7 L1075.5 721.0 L1079.5 714.3 L1083.5 712.1 L1087.5 715.8 L1091.5 727.2 L1095.5 744.6 L1099.5 770.4 L1103.5 790.7 L1107.5 803.9 L1111.5 806.1 L1115.5 803.1 L1119.5 797.4 L1123.5 786.3 L1127.5 781.3 L1131.5 774.1 L1135.5 771.9 L1139.5 764.4 L1143.5 767.9 L1147.5 772.6 L1151.5 771.6 L1155.5 756.2 L1159.5 741.4 L1163.5 741.9 L1167.5 756.5 L1171.5 777.6 L1175.5 790.2 L1179.5 795.7 L1183.5 781.5 L1187.5 767.4 L1191.5 752.3 L1195.5 755.7 L1199.5 766.2 L1203.5 780.5 L1207.5 789.7 L1211.5 794.7 L1215.5 791.0 L1219.5 775.3 L1223.5 746.6 L1227.5 722.3 L1231.5 706.9 L1235.5 702.7 L1239.5 703.7 L1243.5 711.6 L1247.5 722.8 L1251.5 727.2 L1255.5 726.0 L1259.5 720.5 L1263.5 722.0 L1267.5 726.7 L1271.5 742.6 L1275.5 765.9 L1279.5 789.5 L1283.5 800.4 L1287.5 792.0 L1291.5 772.9 L1295.5 749.8 L1299.5 743.3 L1303.5 751.3 L1307.5 773.4 L1311.5 789.2 L1315.5 788.2 L1319.5 769.9 L1323.5 737.6 L1327.5 717.3 L1331.5 708.9 L1335.5 713.3 L1339.5 714.6 L1343.5 712.6 L1347.5 714.6 L1351.5 722.3 L1355.5 736.7 L1359.5 751.5 L1363.5 758.7 L1367.5 765.2 L1371.5 770.6 L1375.5 788.2" stroke="#a81e36" stroke-width="1.1" stroke-dasharray="3 3" fill="none"/>
<path d="M3.5 736.2 L7.5 734.4 L11.5 730.2 L15.5 719.8 L19.5 739.9 L23.5 760.0 L27.5 742.1 L31.5 719.8 L35.5 724.2 L39.5 733.2 L43.5 736.2 L47.5 742.1 L51.5 752.5 L55.5 765.2 L59.5 740.6 L63.5 709.4 L67.5 707.1 L71.5 707.1 L75.5 707.1 L79.5 706.4 L83.5 704.9 L87.5 704.2 L91.5 704.2 L95.5 705.6 L99.5 709.4 L103.5 714.6 L107.5 746.6 L111.5 777.8 L115.5 808.3 L119.5 809.1 L123.5 809.8 L127.5 800.1 L131.5 794.9 L135.5 792.0 L139.5 806.8 L143.5 806.8 L147.5 807.6 L151.5 809.1 L155.5 812.0 L159.5 810.6 L163.5 773.4 L167.5 734.7 L171.5 699.7 L175.5 699.7 L179.5 699.2 L183.5 704.2 L187.5 722.8 L191.5 755.5 L195.5 791.2 L199.5 795.7 L203.5 803.9 L207.5 803.9 L211.5 782.3 L215.5 760.0 L219.5 738.4 L223.5 745.1 L227.5 751.0 L231.5 743.6 L235.5 728.7 L239.5 715.3 L243.5 716.8 L247.5 740.6 L251.5 755.5 L255.5 767.4 L259.5 740.6 L263.5 724.2 L267.5 709.4 L271.5 707.9 L275.5 716.8 L279.5 722.8 L283.5 730.9 L287.5 731.7 L291.5 755.5 L295.5 783.0 L299.5 783.0 L303.5 783.0 L307.5 786.0 L311.5 803.9 L315.5 797.2 L319.5 791.2 L323.5 776.3 L327.5 756.2 L331.5 748.1 L335.5 739.1 L339.5 725.7 L343.5 714.6 L347.5 724.2 L351.5 745.1 L355.5 777.8 L359.5 770.4 L363.5 749.5 L367.5 718.3 L371.5 704.9 L375.5 701.9 L379.5 710.9 L383.5 711.6 L387.5 719.0 L391.5 752.5 L395.5 786.8 L399.5 789.0 L403.5 755.5 L407.5 747.3 L411.5 755.5 L415.5 771.9 L419.5 791.2 L423.5 795.7 L427.5 776.3 L431.5 757.0 L435.5 742.1 L439.5 742.1 L443.5 715.3 L447.5 706.4 L451.5 718.3 L455.5 736.2 L459.5 752.5 L463.5 743.6 L467.5 746.6 L471.5 761.5 L475.5 792.7 L479.5 805.4 L483.5 789.7 L487.5 792.7 L491.5 792.0 L495.5 808.3 L499.5 806.8 L503.5 810.6 L507.5 805.4 L511.5 802.4 L515.5 783.8 L519.5 755.5 L523.5 734.7 L527.5 727.2 L531.5 733.2 L535.5 731.7 L539.5 726.5 L543.5 720.5 L547.5 716.8 L551.5 707.1 L555.5 706.4 L559.5 710.9 L563.5 710.1 L567.5 719.8 L571.5 745.8 L575.5 736.2 L579.5 715.3 L583.5 710.9 L587.5 716.8 L591.5 733.2 L595.5 755.5 L599.5 776.3 L603.5 789.0 L607.5 783.8 L611.5 802.4 L615.5 808.3 L619.5 771.9 L623.5 740.6 L627.5 721.3 L631.5 728.7 L635.5 725.0 L639.5 725.0 L643.5 725.0 L647.5 737.6 L651.5 762.9 L655.5 789.7 L659.5 800.1 L663.5 792.0 L667.5 788.2 L671.5 779.3 L675.5 764.4 L679.5 764.4 L683.5 779.3 L687.5 793.4 L691.5 792.7 L695.5 793.4 L699.5 791.2 L703.5 776.3 L707.5 742.1 L711.5 711.6 L715.5 709.4 L719.5 727.2 L723.5 751.0 L727.5 760.0 L731.5 774.8 L735.5 786.8 L739.5 800.9 L743.5 803.1 L747.5 788.2 L751.5 782.3 L755.5 769.6 L759.5 779.3 L763.5 788.2 L767.5 795.7 L771.5 799.4 L775.5 797.9 L779.5 799.4 L783.5 782.3 L787.5 770.4 L791.5 758.5 L795.5 761.5 L799.5 755.5 L803.5 742.1 L807.5 726.5 L811.5 720.5 L815.5 718.6 L819.5 720.5 L823.5 710.1 L827.5 705.6 L831.5 708.6 L835.5 722.8 L839.5 734.7 L843.5 744.3 L847.5 724.2 L851.5 719.8 L855.5 721.3 L859.5 737.6 L863.5 764.4 L867.5 794.2 L871.5 811.3 L875.5 811.3 L879.5 811.3 L883.5 776.3 L887.5 742.1 L891.5 712.3 L895.5 716.1 L899.5 716.8 L903.5 721.3 L907.5 728.7 L911.5 773.4 L915.5 780.8 L919.5 800.1 L923.5 794.2 L927.5 776.3 L931.5 751.0 L935.5 723.5 L939.5 724.2 L943.5 722.8 L947.5 725.0 L951.5 742.1 L955.5 776.3 L959.5 793.4 L963.5 785.3 L967.5 764.4 L971.5 743.6 L975.5 722.8 L979.5 707.9 L983.5 701.2 L987.5 700.4 L991.5 716.8 L995.5 746.6 L999.5 779.3 L1003.5 790.2 L1007.5 800.1 L1011.5 786.8 L1015.5 769.6 L1019.5 750.3 L1023.5 751.8 L1027.5 771.9 L1031.5 781.5 L1035.5 776.3 L1039.5 778.6 L1043.5 790.5 L1047.5 786.0 L1051.5 788.2 L1055.5 786.0 L1059.5 774.1 L1063.5 749.5 L1067.5 729.5 L1071.5 722.0 L1075.5 711.6 L1079.5 709.4 L1083.5 715.3 L1087.5 722.8 L1091.5 743.6 L1095.5 767.4 L1099.5 800.1 L1103.5 804.6 L1107.5 806.8 L1111.5 806.8 L1115.5 795.7 L1119.5 789.7 L1123.5 773.4 L1127.5 780.8 L1131.5 768.1 L1135.5 766.7 L1139.5 758.5 L1143.5 778.6 L1147.5 780.8 L1151.5 755.5 L1155.5 732.4 L1159.5 736.2 L1163.5 757.0 L1167.5 776.3 L1171.5 799.4 L1175.5 794.9 L1179.5 792.7 L1183.5 757.0 L1187.5 752.5 L1191.5 747.3 L1195.5 767.4 L1199.5 783.8 L1203.5 790.5 L1207.5 794.9 L1211.5 798.7 L1215.5 779.3 L1219.5 748.1 L1223.5 712.3 L1227.5 706.4 L1231.5 701.9 L1235.5 699.7 L1239.5 709.4 L1243.5 725.7 L1247.5 733.2 L1251.5 722.8 L1255.5 722.0 L1259.5 716.8 L1263.5 727.2 L1267.5 736.2 L1271.5 764.4 L1275.5 797.2 L1279.5 806.8 L1283.5 797.2 L1287.5 771.9 L1291.5 749.5 L1295.5 728.0 L1299.5 752.5 L1303.5 773.4 L1307.5 794.2 L1311.5 800.1 L1315.5 770.4 L1319.5 739.1 L1323.5 703.4 L1327.5 709.4 L1331.5 713.8 L1335.5 716.8 L1339.5 713.1 L1343.5 707.9 L1347.5 722.8 L1351.5 736.2 L1355.5 751.0 L1359.5 767.4 L1363.5 757.7 L1367.5 770.4 L1371.5 783.8 L1375.5 810.6" stroke="#2aa8a2" stroke-width="1.1" fill="none"/>
</g>
<text x="1823" y="117.5" textLength="41.5" lengthAdjust="spacingAndGlyphs">FE 61.8</text>
<text x="1816" y="608.7" textLength="48" lengthAdjust="spacingAndGlyphs">FE 100.0</text>
<path d="M2.5 2.5H1866.5V691.5H2.5Z M2.5 693.5H1866.5V816.5H2.5Z" stroke="#000" stroke-width="1" fill="none" shape-rendering="crispEdges"/>
<text x="1873" y="37" textLength="31.6" lengthAdjust="spacingAndGlyphs">4.735</text>
<text x="1873" y="86" textLength="31.6" lengthAdjust="spacingAndGlyphs">4.535</text>
<text x="1873" y="135" textLength="31.6" lengthAdjust="spacingAndGlyphs">4.335</text>
<text x="1873" y="185" textLength="31.6" lengthAdjust="spacingAndGlyphs">4.135</text>
<text x="1873" y="234" textLength="31.6" lengthAdjust="spacingAndGlyphs">3.935</text>
<text x="1873" y="283" textLength="31.6" lengthAdjust="spacingAndGlyphs">3.735</text>
<text x="1873" y="332" textLength="31.6" lengthAdjust="spacingAndGlyphs">3.535</text>
<text x="1873" y="382" textLength="31.6" lengthAdjust="spacingAndGlyphs">3.335</text>
<text x="1873" y="431" textLength="31.6" lengthAdjust="spacingAndGlyphs">3.135</text>
<text x="1873" y="480" textLength="31.6" lengthAdjust="spacingAndGlyphs">2.935</text>
<text x="1873" y="529" textLength="31.6" lengthAdjust="spacingAndGlyphs">2.735</text>
<text x="1873" y="579" textLength="31.6" lengthAdjust="spacingAndGlyphs">2.535</text>
<text x="1873" y="628" textLength="31.6" lengthAdjust="spacingAndGlyphs">2.335</text>
<text x="1873" y="677" textLength="31.6" lengthAdjust="spacingAndGlyphs">2.135</text>
<text x="1869" y="708" textLength="21" lengthAdjust="spacingAndGlyphs">100</text>
<text x="1869" y="724" textLength="14" lengthAdjust="spacingAndGlyphs">80</text>
<text x="1869" y="796" textLength="14" lengthAdjust="spacingAndGlyphs">20</text>
<text x="1870" y="813" textLength="7" lengthAdjust="spacingAndGlyphs">0</text>
<text x="2" y="831.7" style="font-size:12.5px">4 Sep 2024</text>
<text x="98" y="831.7" style="font-size:12.5px">2 Oct 2024</text>
<text x="194" y="831.7" style="font-size:12.5px">30 Oct 2024</text>
<text x="290" y="831.7" style="font-size:12.5px">27 Nov 2024</text>
<text x="386" y="831.7" style="font-size:12.5px">25 Dec 2024</text>
<text x="482" y="831.7" style="font-size:12.5px">22 Jan 2025</text>
<text x="578" y="831.7" style="font-size:12.5px">19 Feb 2025</text>
<text x="674" y="831.7" style="font-size:12.5px">19 Mar 2025</text>
<text x="770" y="831.7" style="font-size:12.5px">16 Apr 2025</text>
<text x="866" y="831.7" style="font-size:12.5px">15 May 2025</text>
<text x="962" y="831.7" style="font-size:12.5px">12 Jun 2025</text>
<text x="1058" y="831.7" style="font-size:12.5px">10 Jul 2025</text>
<text x="1154" y="831.7" style="font-size:12.5px">7 Aug 2025</text>
<text x="1250" y="831.7" style="font-size:12.5px">4 Sep 2025</text>
<text x="1346" y="831.7" style="font-size:12.5px">2 Oct 2025</text>
<path d="M1867 32.5H1869 M1867 81.5H1869 M1867 130.5H1869 M1867 180.5H1869 M1867 229.5H1869 M1867 278.5H1869 M1867 327.5H1869 M1867 377.5H1869 M1867 426.5H1869 M1867 475.5H1869 M1867 524.5H1869 M1867 574.5H1869 M1867 623.5H1869 M1867 672.5H1869 M1867 694.5H1869M1867 719.5H1869M1867 791.5H1869M1867 815.5H1869 M3.5 817V820 M99.5 817V820 M195.5 817V820 M291.5 817V820 M387.5 817V820 M483.5 817V820 M579.5 817V820 M675.5 817V820 M771.5 817V820 M867.5 817V820 M963.5 817V820 M1059.5 817V820 M1155.5 817V820 M1251.5 817V820 M1347.5 817V820" stroke="#000" stroke-width="1" shape-rendering="crispEdges"/>
<rect x="1868" y="154" width="42" height="14" fill="#2f4f4f"/>
<text x="1873" y="165.5" textLength="31.6" lengthAdjust="spacingAndGlyphs" style="fill:#fff;stroke:#fff;stroke-width:0.15px">4.215</text>
<rect x="1868" y="249" width="42" height="14" fill="#2f4f4f"/>
<text x="1873" y="260.5" textLength="31.6" lengthAdjust="spacingAndGlyphs" style="fill:#fff;stroke:#fff;stroke-width:0.15px">3.830</text>
<rect x="1868" y="395" width="42" height="14" fill="#000"/>
<text x="1873" y="406.5" textLength="31.6" lengthAdjust="spacingAndGlyphs" style="fill:#fff;stroke:#fff;stroke-width:0.15px">3.232</text>
<path d="M6 10H15.5L10.75 15Z" fill="#000"/>
<text x="21.5" y="16.6" textLength="90.3" lengthAdjust="spacingAndGlyphs">Natural_Gas,Daily</text>
<text x="121.5" y="16.6" textLength="139" lengthAdjust="spacingAndGlyphs">3.256 3.260 3.224 3.232</text>
</svg></body></html>
